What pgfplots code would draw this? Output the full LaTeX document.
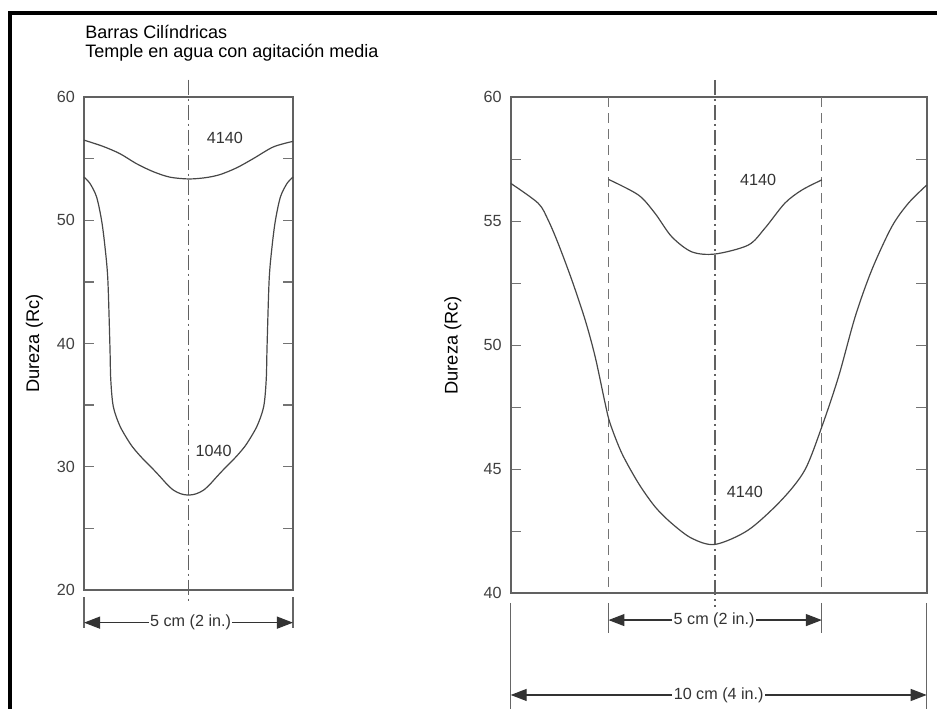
\documentclass[border=0pt]{standalone}
\usepackage{fontspec}
\setmainfont{Liberation Sans}
\usepackage{pgfplots}
\pgfplotsset{compat=1.18}
\usetikzlibrary{arrows.meta}

% curvas 4140 y 1040, barra de 5 cm
\pgfplotstableread{
x y
-2.50 56.50
-2.05 56.00
-1.64 55.40
-1.25 54.60
-0.85 53.95
-0.45 53.50
0.00 53.35
0.40 53.45
0.75 53.70
1.15 54.25
1.55 55.00
2.03 55.95
2.50 56.40
}\lefthigh
\pgfplotstableread{
x y
-2.50 53.50
-2.36 53.00
-2.20 51.90
-2.08 50.00
-2.00 47.90
-1.93 45.20
-1.88 39.80
-1.86 37.10
-1.80 34.90
-1.64 33.30
-1.40 31.90
-1.24 31.20
-1.08 30.60
-0.86 29.85
-0.68 29.20
-0.52 28.60
-0.36 28.10
-0.18 27.80
0.00 27.70
0.18 27.80
0.36 28.10
0.52 28.60
0.68 29.20
0.86 29.85
1.08 30.60
1.24 31.20
1.40 31.90
1.64 33.30
1.80 34.90
1.86 37.10
1.88 39.80
1.93 45.20
2.00 47.90
2.08 50.00
2.20 51.90
2.36 53.00
2.50 53.50
}\leftlow
% barra de 10 cm
\pgfplotstableread{
x y
-2.65 56.69
-1.93 56.06
-1.53 55.32
-1.13 54.38
-0.65 53.77
-0.09 53.68
0.71 54.04
1.11 54.72
1.59 55.73
2.00 56.26
2.48 56.67
}\rightinner
\pgfplotstableread{
x y
-5.00 56.53
-4.34 55.73
-4.10 55.05
-3.86 54.11
-3.53 52.63
-3.21 51.02
-2.97 49.54
-2.73 47.66
-2.61 46.85
-2.33 45.65
-1.93 44.44
-1.53 43.49
-1.13 42.82
-0.65 42.22
-0.09 41.97
0.71 42.55
1.51 43.76
2.07 44.97
2.48 46.72
2.88 48.73
3.28 51.15
3.68 53.04
4.16 54.78
4.56 55.73
5.00 56.46
}\rightouter

\pgfplotsset{
  barra/.style={
    scale only axis, clip=false,
    xtick=\empty,
    axis line style={draw=black!62, line width=0.5mm},
    tick style={draw=black!55, line width=0.35mm},
    major tick length=2.6mm, minor tick length=2.6mm,
    tick align=inside,
    /pgf/number format/assume math mode=true,
    yticklabel style={font=\fontsize{11.5}{13}\selectfont, text=black!75, inner sep=0pt, xshift=-2.2mm},
    ylabel={Dureza (Rc)},
  },
  curva/.style={draw=black!72, line width=0.3mm, smooth, tension=0.5, no markers},
  eje/.style={draw=black!62, line width=0.3mm, dash pattern=on 3.75mm off 1mm on 0.5mm off 1mm},
  corte/.style={draw=black!55, line width=0.3mm, dash pattern=on 2.5mm off 1.5mm},
}
\tikzset{
  ref/.style={draw=black!60, line width=0.3mm},
  cota/.style={draw=black!80, line width=0.3mm, {Triangle[length=4mm,width=3mm]}-{Triangle[length=4mm,width=3mm]}},
  rot/.style={fill=white, inner sep=1pt, font=\fontsize{11.5}{13}\selectfont, text=black!80},
  num/.style={font=\fontsize{11.5}{13}\selectfont, text=black!80},
  tit/.style={anchor=base west, inner sep=0pt, font=\fontsize{12.8}{14}\selectfont},
}

\begin{document}
\begin{tikzpicture}
\useasboundingbox (0,0) rectangle (234.25mm,177.25mm);
\draw[line width=1mm] (2.375mm,0) -- (2.375mm,174mm) -- (234.25mm,174mm);

\node[tit] at (21.25mm,167.5mm) {Barras Cilíndricas};
\node[tit] at (21.25mm,162.75mm) {Temple en agua con agitación media};

\begin{axis}[barra,
  at={(21mm,29.75mm)}, anchor=south west,
  width=52.25mm, height=123.25mm,
  xmin=-2.5, xmax=2.5, ymin=20, ymax=60,
  ytick={20,30,...,60}, minor ytick={25,35,45,55},
  every axis y label/.style={at={(axis description cs:-0.237,0.5)}, rotate=90, anchor=center, font=\fontsize{13}{15}\selectfont},
]
\addplot[eje] coordinates {(0,61.4) (0,18.95)};
\addplot[curva] table {\lefthigh};
\addplot[curva] table {\leftlow};
\node[num] at (0.87,56.7) {4140};
\node[num] at (0.6,31.3) {1040};
\draw[ref] (-2.5,19.43) -- (-2.5,16.92);
\draw[ref] (2.5,19.43) -- (2.5,16.92);
\draw[cota] (-2.5,17.35) -- (2.5,17.35);
\node[rot] at (0.05,17.35) {5 cm (2 in.)};
\end{axis}

\begin{axis}[barra,
  at={(127.675mm,28.925mm)}, anchor=south west,
  width=104mm, height=124mm,
  xmin=-5, xmax=5, ymin=40, ymax=60,
  ytick={40,45,...,60}, minor ytick={42.5,47.5,52.5,57.5},
  every axis y label/.style={at={(axis description cs:-0.1387,0.5)}, rotate=90, anchor=center, font=\fontsize{13}{15}\selectfont},
]
\addplot[corte] coordinates {(-2.65,60) (-2.65,40)};
\addplot[corte] coordinates {(2.48,60) (2.48,40)};
\addplot[eje] coordinates {(-0.09,60.7) (-0.09,39.46)};
\addplot[curva] table {\rightinner};
\addplot[curva] table {\rightouter};
\node[num] at (0.95,56.67) {4140};
\node[num] at (0.63,44.1) {4140};
\draw[ref] (-2.65,39.61) -- (-2.65,38.4);
\draw[ref] (2.48,39.61) -- (2.48,38.4);
\draw[cota] (-2.65,38.92) -- (2.48,38.92);
\node[rot] at (-0.11,38.92) {5 cm (2 in.)};
\draw[ref] (-5,39.61) -- (-5,35.3);
\draw[ref] (5,39.61) -- (5,35.3);
\draw[cota] (-5,35.9) -- (5,35.9);
\node[rot] at (0,35.9) {10 cm (4 in.)};
\end{axis}
\end{tikzpicture}
\end{document}
